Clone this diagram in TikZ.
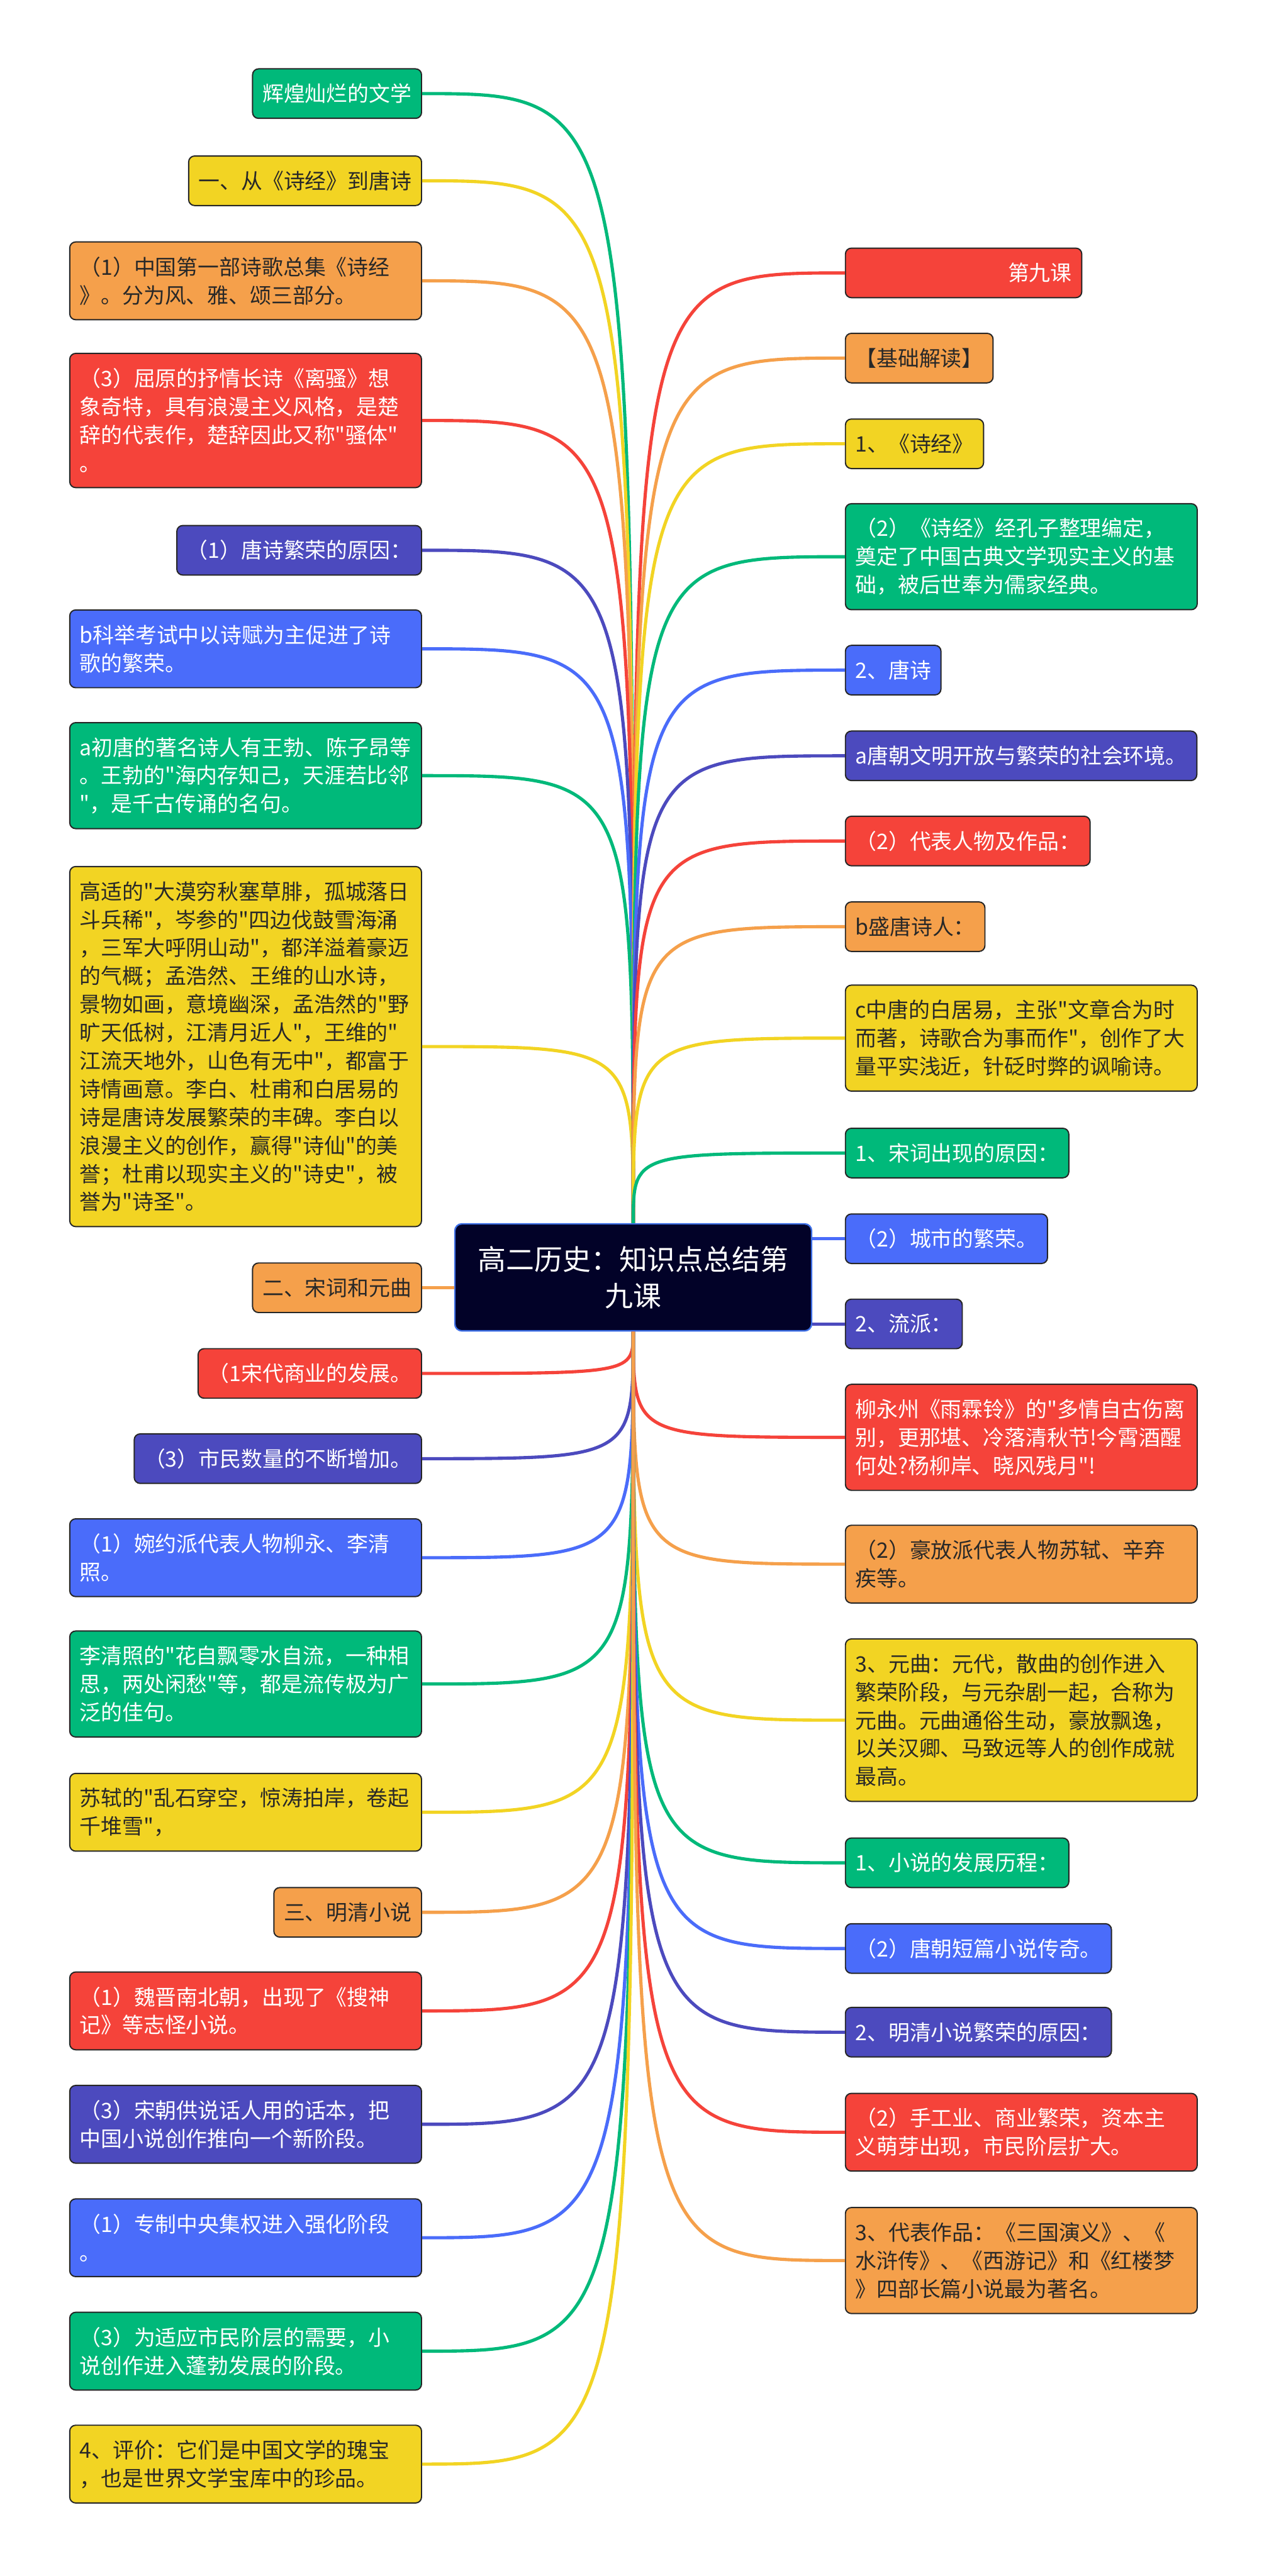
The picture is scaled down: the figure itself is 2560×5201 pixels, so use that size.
\documentclass[tikz,border=0pt]{standalone}
\usepackage{fontspec}
\setmainfont{Noto Sans CJK SC}[Ligatures=TeXOff]
\usetikzlibrary{positioning}

\definecolor{mmgreen}{RGB}{0,185,122}
\definecolor{mmyellow}{RGB}{242,212,35}
\definecolor{mmorange}{RGB}{245,160,75}
\definecolor{mmred}{RGB}{245,67,58}
\definecolor{mmindigo}{RGB}{76,74,190}
\definecolor{mmblue}{RGB}{74,108,250}
\definecolor{mmdark}{RGB}{40,40,40}
\definecolor{mmhub}{RGB}{2,2,40}
\definecolor{mmhubline}{RGB}{60,110,230}

\begin{document}
\begin{tikzpicture}[x=1pt, y=-1pt,
        box/.style={rectangle, draw=black!85, line width=2.5pt, rounded corners=12pt, align=left, inner xsep=20pt, inner ysep=4pt, minimum height=100pt, font=\fontsize{43}{57}\selectfont},
        wide/.style={box, text width=670pt},
        nlines/.style={minimum height=43pt+#1*57pt},
        gbox/.style={fill=mmgreen, text=white},
        ybox/.style={fill=mmyellow, text=mmdark},
        obox/.style={fill=mmorange, text=mmdark},
        rbox/.style={fill=mmred, text=white},
        ibox/.style={fill=mmindigo, text=white},
        bbox/.style={fill=mmblue, text=white},
        hub/.style={rectangle, draw=mmhubline, line width=3pt, fill=mmhub, text=white, rounded corners=14pt, inner sep=10pt, text width=640pt, align=center, minimum width=720pt, minimum height=216pt, font=\fontsize{57}{74}\selectfont},
        link/.style={line width=6.5pt, draw=#1}
    ]
        % Canvas
        \fill[white] (0,0) rectangle (2560,5201);
        \useasboundingbox (0,0) rectangle (2560,5201);

        % Centre topic
        \node[hub] (topic) at (1278, 2579) {高二历史：知识点总结第\\九课};

        % LEFT: from Shijing to Tang poetry
        \node[box, gbox, anchor=east] (glory) at (852, 189) {辉煌灿烂的文学};
        \node[box, ybox, anchor=east] (partone) at (852, 365) {一、从《诗经》到唐诗};
        \node[wide, obox, nlines=2, anchor=east] (shijing) at (852, 567) {（1）中国第一部诗歌总集《诗经\\》。分为风、雅、颂三部分。};
        \node[wide, rbox, nlines=4, anchor=east] (lisao) at (852, 849) {（3）屈原的抒情长诗《离骚》想\\象奇特，具有浪漫主义风格，是楚\\辞的代表作，楚辞因此又称"骚体"\\。};
        \node[box, ibox, anchor=east] (tangwhy) at (852, 1111) {（1）唐诗繁荣的原因：};
        \node[wide, bbox, nlines=2, anchor=east] (exam) at (852, 1310) {b科举考试中以诗赋为主促进了诗\\歌的繁荣。};
        \node[wide, gbox, nlines=3, anchor=east] (earlytang) at (852, 1566) {a初唐的著名诗人有王勃、陈子昂等\\。王勃的"海内存知己，天涯若比邻\\"，是千古传诵的名句。};
        \node[wide, ybox, nlines=12, anchor=east] (hightang) at (852, 2113) {高适的"大漠穷秋塞草腓，孤城落日\\斗兵稀"，岑参的"四边伐鼓雪海涌\\，三军大呼阴山动"，都洋溢着豪迈\\的气概；孟浩然、王维的山水诗，\\景物如画，意境幽深，孟浩然的"野\\旷天低树，江清月近人"，王维的"\\江流天地外，山色有无中"，都富于\\诗情画意。李白、杜甫和白居易的\\诗是唐诗发展繁荣的丰碑。李白以\\浪漫主义的创作，赢得"诗仙"的美\\誉；杜甫以现实主义的"诗史"，被\\誉为"诗圣"。};

        % LEFT: Song ci and Yuan qu
        \node[box, obox, anchor=east] (parttwo) at (852, 2600) {二、宋词和元曲};
        \node[box, rbox, anchor=east] (songtrade) at (852, 2773) {（1宋代商业的发展。};
        \node[box, ibox, anchor=east] (citizens) at (852, 2945) {（3）市民数量的不断增加。};
        \node[wide, bbox, nlines=2, anchor=east] (wanyue) at (852, 3145) {（1）婉约派代表人物柳永、李清\\照。};
        \node[wide, gbox, nlines=3, anchor=east] (liqz) at (852, 3400) {李清照的"花自飘零水自流，一种相\\思，两处闲愁"等，都是流传极为广\\泛的佳句。};
        \node[wide, ybox, nlines=2, anchor=east] (sushi) at (852, 3659) {苏轼的"乱石穿空，惊涛拍岸，卷起\\千堆雪"，};

        % LEFT: Ming and Qing novels
        \node[box, obox, anchor=east] (partthree) at (852, 3861) {三、明清小说};
        \node[wide, rbox, nlines=2, anchor=east] (soushen) at (852, 4060) {（1）魏晋南北朝，出现了《搜神\\记》等志怪小说。};
        \node[wide, ibox, nlines=2, anchor=east] (huaben) at (852, 4289) {（3）宋朝供说话人用的话本，把\\中国小说创作推向一个新阶段。};
        \node[wide, bbox, nlines=2, anchor=east] (central) at (852, 4518) {（1）专制中央集权进入强化阶段\\。};
        \node[wide, gbox, nlines=2, anchor=east] (market) at (852, 4747) {（3）为适应市民阶层的需要，小\\说创作进入蓬勃发展的阶段。};
        \node[wide, ybox, nlines=2, anchor=east] (verdict) at (852, 4975) {4、评价：它们是中国文学的瑰宝\\，也是世界文学宝库中的珍品。};

        % RIGHT: lesson and Tang poetry
        \node[box, rbox, text width=437pt, align=right, anchor=west] (lesson) at (1705, 551) {第九课};
        \node[box, obox, anchor=west] (basics) at (1705, 723) {【基础解读】};
        \node[box, ybox, anchor=west] (shijinghead) at (1705, 896) {1、《诗经》};
        \node[wide, gbox, nlines=3, anchor=west] (confucius) at (1705, 1124) {（2）《诗经》经孔子整理编定，\\奠定了中国古典文学现实主义的基\\础，被后世奉为儒家经典。};
        \node[box, bbox, anchor=west] (tangpoem) at (1705, 1353) {2、唐诗};
        \node[box, ibox, anchor=west] (tangsociety) at (1705, 1526) {a唐朝文明开放与繁荣的社会环境。};
        \node[box, rbox, anchor=west] (figures) at (1705, 1698) {（2）代表人物及作品：};
        \node[box, obox, anchor=west] (peaktang) at (1705, 1871) {b盛唐诗人：};
        \node[wide, ybox, nlines=3, anchor=west] (baijuyi) at (1705, 2096) {c中唐的白居易，主张"文章合为时\\而著，诗歌合为事而作"，创作了大\\量平实浅近，针砭时弊的讽喻诗。};

        % RIGHT: Song ci, Yuan qu and novels
        \node[box, gbox, anchor=west] (ciwhy) at (1705, 2328) {1、宋词出现的原因：};
        \node[box, bbox, anchor=west] (cities) at (1705, 2501) {（2）城市的繁荣。};
        \node[box, ibox, anchor=west] (schools) at (1705, 2673) {2、流派：};
        \node[wide, rbox, nlines=3, anchor=west] (liuyong) at (1705, 2902) {柳永州《雨霖铃》的"多情自古伤离\\别，更那堪、冷落清秋节!今霄酒醒\\何处?杨柳岸、晓风残月"!};
        \node[wide, obox, nlines=2, anchor=west] (haofang) at (1705, 3158) {（2）豪放派代表人物苏轼、辛弃\\疾等。};
        \node[wide, ybox, nlines=5, anchor=west] (yuanqu) at (1705, 3473) {3、元曲：元代，散曲的创作进入\\繁荣阶段，与元杂剧一起，合称为\\元曲。元曲通俗生动，豪放飘逸，\\以关汉卿、马致远等人的创作成就\\最高。};
        \node[box, gbox, anchor=west] (novelpath) at (1705, 3761) {1、小说的发展历程：};
        \node[box, bbox, anchor=west] (chuanqi) at (1705, 3934) {（2）唐朝短篇小说传奇。};
        \node[box, ibox, anchor=west] (mingqingwhy) at (1705, 4103) {2、明清小说繁荣的原因：};
        \node[wide, rbox, nlines=2, anchor=west] (crafts) at (1705, 4305) {（2）手工业、商业繁荣，资本主\\义萌芽出现，市民阶层扩大。};
        \node[wide, obox, nlines=3, anchor=west] (classics) at (1705, 4564) {3、代表作品：《三国演义》、《\\水浒传》、《西游记》和《红楼梦\\》四部长篇小说最为著名。};

        % Branches to the left
        \draw[link=mmgreen] (topic.north) .. controls (topic.north |- glory.east) .. (glory.east);
        \draw[link=mmyellow] (topic.north) .. controls (topic.north |- partone.east) .. (partone.east);
        \draw[link=mmorange] (topic.north) .. controls (topic.north |- shijing.east) .. (shijing.east);
        \draw[link=mmred] (topic.north) .. controls (topic.north |- lisao.east) .. (lisao.east);
        \draw[link=mmindigo] (topic.north) .. controls (topic.north |- tangwhy.east) .. (tangwhy.east);
        \draw[link=mmblue] (topic.north) .. controls (topic.north |- exam.east) .. (exam.east);
        \draw[link=mmgreen] (topic.north) .. controls (topic.north |- earlytang.east) .. (earlytang.east);
        \draw[link=mmyellow] (topic.north) .. controls (topic.north |- hightang.east) .. (hightang.east);
        \draw[link=mmorange] (topic.west |- parttwo.east) -- (parttwo.east);
        \draw[link=mmred] (topic.south) .. controls (topic.south |- songtrade.east) .. (songtrade.east);
        \draw[link=mmindigo] (topic.south) .. controls (topic.south |- citizens.east) .. (citizens.east);
        \draw[link=mmblue] (topic.south) .. controls (topic.south |- wanyue.east) .. (wanyue.east);
        \draw[link=mmgreen] (topic.south) .. controls (topic.south |- liqz.east) .. (liqz.east);
        \draw[link=mmyellow] (topic.south) .. controls (topic.south |- sushi.east) .. (sushi.east);
        \draw[link=mmorange] (topic.south) .. controls (topic.south |- partthree.east) .. (partthree.east);
        \draw[link=mmred] (topic.south) .. controls (topic.south |- soushen.east) .. (soushen.east);
        \draw[link=mmindigo] (topic.south) .. controls (topic.south |- huaben.east) .. (huaben.east);
        \draw[link=mmblue] (topic.south) .. controls (topic.south |- central.east) .. (central.east);
        \draw[link=mmgreen] (topic.south) .. controls (topic.south |- market.east) .. (market.east);
        \draw[link=mmyellow] (topic.south) .. controls (topic.south |- verdict.east) .. (verdict.east);

        % Branches to the right
        \draw[link=mmred] (topic.north) .. controls (topic.north |- lesson.west) .. (lesson.west);
        \draw[link=mmorange] (topic.north) .. controls (topic.north |- basics.west) .. (basics.west);
        \draw[link=mmyellow] (topic.north) .. controls (topic.north |- shijinghead.west) .. (shijinghead.west);
        \draw[link=mmgreen] (topic.north) .. controls (topic.north |- confucius.west) .. (confucius.west);
        \draw[link=mmblue] (topic.north) .. controls (topic.north |- tangpoem.west) .. (tangpoem.west);
        \draw[link=mmindigo] (topic.north) .. controls (topic.north |- tangsociety.west) .. (tangsociety.west);
        \draw[link=mmred] (topic.north) .. controls (topic.north |- figures.west) .. (figures.west);
        \draw[link=mmorange] (topic.north) .. controls (topic.north |- peaktang.west) .. (peaktang.west);
        \draw[link=mmyellow] (topic.north) .. controls (topic.north |- baijuyi.west) .. (baijuyi.west);
        \draw[link=mmgreen] (topic.north) .. controls (topic.north |- ciwhy.west) .. (ciwhy.west);
        \draw[link=mmblue] (topic.east |- cities.west) -- (cities.west);
        \draw[link=mmindigo] (topic.east |- schools.west) -- (schools.west);
        \draw[link=mmred] (topic.south) .. controls (topic.south |- liuyong.west) .. (liuyong.west);
        \draw[link=mmorange] (topic.south) .. controls (topic.south |- haofang.west) .. (haofang.west);
        \draw[link=mmyellow] (topic.south) .. controls (topic.south |- yuanqu.west) .. (yuanqu.west);
        \draw[link=mmgreen] (topic.south) .. controls (topic.south |- novelpath.west) .. (novelpath.west);
        \draw[link=mmblue] (topic.south) .. controls (topic.south |- chuanqi.west) .. (chuanqi.west);
        \draw[link=mmindigo] (topic.south) .. controls (topic.south |- mingqingwhy.west) .. (mingqingwhy.west);
        \draw[link=mmred] (topic.south) .. controls (topic.south |- crafts.west) .. (crafts.west);
        \draw[link=mmorange] (topic.south) .. controls (topic.south |- classics.west) .. (classics.west);
    \end{tikzpicture}
\end{document}
